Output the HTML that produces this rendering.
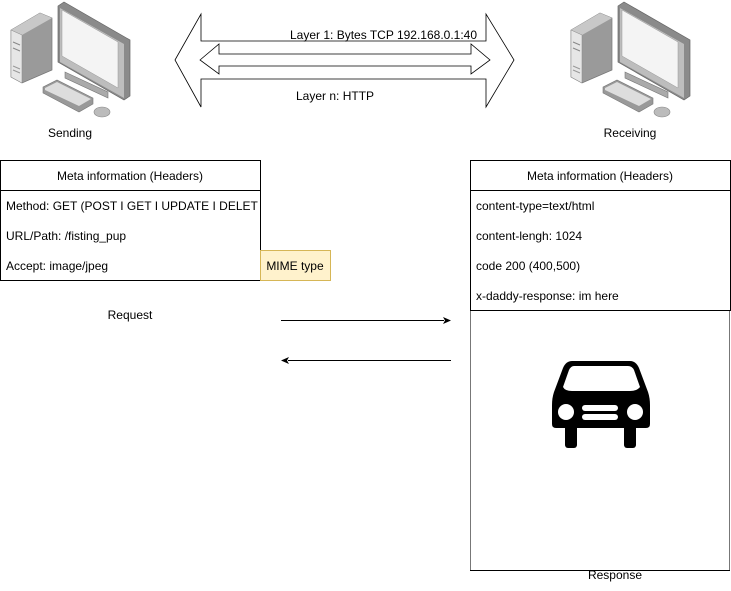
<!DOCTYPE html>
<html><head><meta charset="utf-8"><style>
html,body{margin:0;padding:0;background:#fff;}
svg{display:block;font-family:"Liberation Sans",Arial,sans-serif;font-size:12px;}
</style></head><body>
<svg width="731" height="591" viewBox="0 0 731 591" xmlns="http://www.w3.org/2000/svg">
<defs>
<g id="pc">
  <!-- tower -->
  <polygon points="11,30 40,13 52,18 52,70 22,83 11,77" fill="#9a9a9a" stroke="#777" stroke-width="0.7"/>
  <polygon points="11,30 40,13 52,18 22,35" fill="#c8c8c8"/>
  <polygon points="11,30 22,35 22,83 11,77" fill="#e6e6e6" stroke="#888" stroke-width="0.5"/>
  <line x1="13" y1="42" x2="20" y2="45" stroke="#888"/>
  <line x1="13" y1="48" x2="20" y2="51" stroke="#888"/>
  <line x1="13" y1="66" x2="20" y2="69" stroke="#999"/>
  <line x1="13" y1="70" x2="20" y2="73" stroke="#999"/>
  <!-- monitor stand -->
  <polygon points="65,72 108,92 108,98 65,78" fill="#aaa" stroke="#777" stroke-width="0.6"/>
  <!-- monitor -->
  <polygon points="58,6 64,2 130,40 130,96 124,100 58,62" fill="#8a8a8a" stroke="#666" stroke-width="0.7"/>
  <polygon points="60,8 124,44 124,98 60,62" fill="#bdbdbd"/>
  <polygon points="62,10 118,42 118,88 62,56" fill="#f4f4f4" stroke="#999" stroke-width="0.5"/>
  <!-- keyboard -->
  <polygon points="43,87 57,80 93,98 93,104 79,112 43,93" fill="#999" stroke="#777" stroke-width="0.6"/>
  <polygon points="45,88 57,82 91,99 79,106 45,90" fill="#ddd"/>
  <!-- mouse -->
  <ellipse cx="102" cy="112" rx="8" ry="5" fill="#bbb" stroke="#888" stroke-width="0.6"/>
</g>
</defs>
<use href="#pc"/>
<use href="#pc" transform="translate(560,0)"/>
<text x="70" y="137" text-anchor="middle">Sending</text>
<text x="630" y="137" text-anchor="middle">Receiving</text>

<!-- big double arrow -->
<polygon points="175,60 201,14 201,41 486,41 486,14 514,60 486,107 486,79 201,79 201,107" fill="#fff" stroke="#000" stroke-width="0.8"/>
<polygon points="200,60 219,44 219,54 471,54 471,44 490,60 471,74 471,66 219,66 219,74" fill="#fff" stroke="#000" stroke-width="0.8"/>
<text x="290" y="39">Layer 1: Bytes TCP 192.168.0.1:40</text>
<text x="296" y="100">Layer n: HTTP</text>

<!-- left table -->
<rect x="0.5" y="160.5" width="260" height="120" fill="#fff" stroke="#000"/>
<line x1="0" y1="190.5" x2="261" y2="190.5" stroke="#000"/>
<text x="130" y="180" text-anchor="middle">Meta information (Headers)</text>
<text x="6" y="210">Method: GET (POST I GET I UPDATE I DELET</text>
<text x="6" y="240">URL/Path: /fisting_pup</text>
<text x="6" y="270">Accept: image/jpeg</text>
<rect x="260.5" y="250.5" width="70" height="30" fill="#fff2cc" stroke="#d6b656"/>
<text x="295" y="270" text-anchor="middle">MIME type</text>
<text x="130" y="319" text-anchor="middle">Request</text>

<!-- arrows -->
<line x1="281" y1="320.5" x2="444" y2="320.5" stroke="#000"/>
<polygon points="451,320.5 443,317 445,320.5 443,324" fill="#000"/>
<line x1="288" y1="360.5" x2="451" y2="360.5" stroke="#000"/>
<polygon points="281,360.5 289,357 287,360.5 289,364" fill="#000"/>

<!-- right table -->
<rect x="470.5" y="160.5" width="260" height="150" fill="#fff" stroke="#000"/>
<line x1="470" y1="190.5" x2="731" y2="190.5" stroke="#000"/>
<text x="600" y="180" text-anchor="middle">Meta information (Headers)</text>
<text x="476" y="210">content-type=text/html</text>
<text x="476" y="240">content-lengh: 1024</text>
<text x="476" y="270">code 200 (400,500)</text>
<text x="476" y="300">x-daddy-response: im here</text>

<!-- response box -->
<rect x="470.5" y="310.5" width="259" height="260" fill="#fff" stroke="#000"/>
<line x1="470.5" y1="311" x2="470.5" y2="570" stroke="#777"/>
<line x1="729.5" y1="311" x2="729.5" y2="570" stroke="#777"/>
<text x="615" y="579" text-anchor="middle">Response</text>

<!-- car -->
<path d="M572,361 L630,361 Q636,361 639,368 L648,392 Q650,398 650,405 L650,424 Q650,428 646,428 L625,428 L567,428 L556,428 Q552,428 552,424 L552,405 Q552,398 554,392 L563,368 Q566,361 572,361 Z" fill="#000"/>
<path d="M574,366 L628,366 Q632,366 634,370 L640,387 Q637,391 630,391 L572,391 Q565,391 563,387 L569,370 Q571,366 574,366 Z" fill="#fff"/>
<rect x="565" y="425" width="12" height="23" rx="3" fill="#000"/>
<rect x="624" y="425" width="12" height="23" rx="3" fill="#000"/>
<circle cx="566" cy="412" r="8" fill="#fff"/>
<circle cx="635" cy="412" r="8" fill="#fff"/>
<rect x="582" y="405" width="36" height="6" rx="3" fill="#fff"/>
<rect x="582" y="414" width="36" height="6" rx="3" fill="#fff"/>
</svg>
</body></html>
